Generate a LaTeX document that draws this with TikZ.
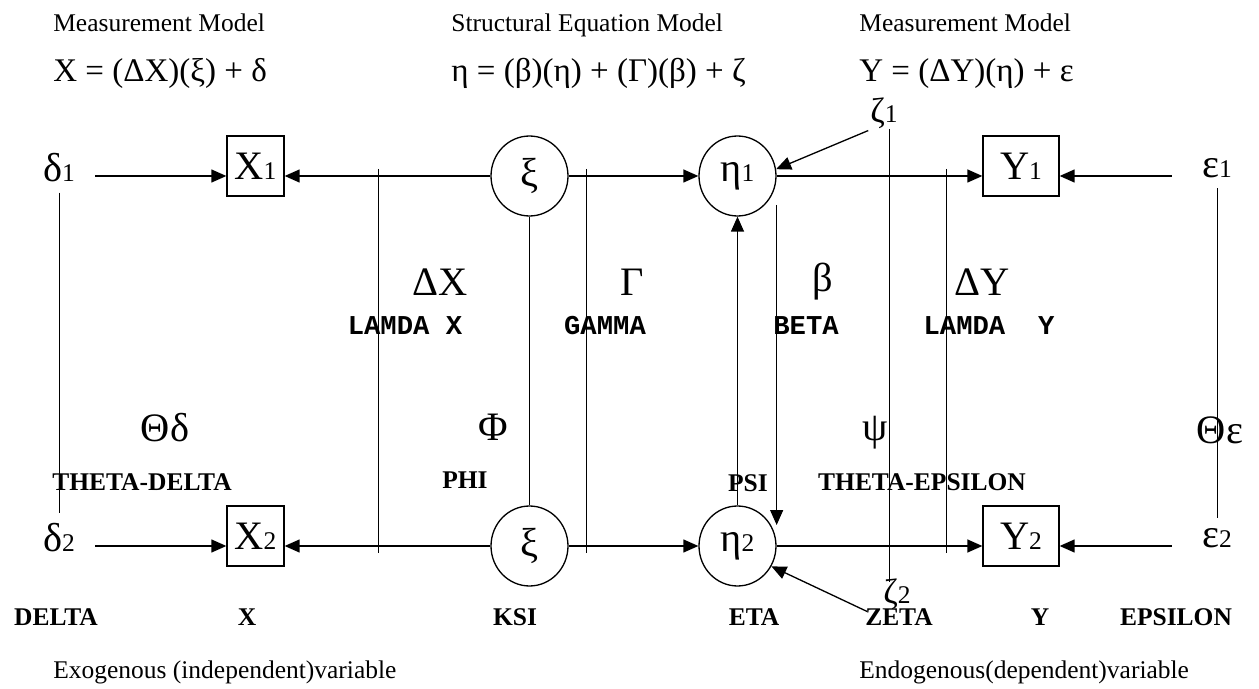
\documentclass[tikz,border=0pt]{standalone}
\usepackage{fontspec}
\setmainfont{Liberation Serif}
\setmonofont{Liberation Mono}
\usepackage{tikz}
\usetikzlibrary{arrows.meta,shapes.geometric}
\newcommand{\idx}[1]{{\fontsize{14.5}{16}\selectfont #1}}

\begin{document}
\begin{tikzpicture}[x=0.02cm,y=-0.02cm,
  sym/.style={font=\fontsize{23}{26}\selectfont,inner sep=0pt},
  lbl/.style={font=\fontsize{14.5}{16}\selectfont\bfseries,inner sep=0pt},
  mlbl/.style={font=\fontsize{15.5}{17}\selectfont\ttfamily\bfseries,inner sep=0pt},
  ttl/.style={font=\fontsize{14.5}{16}\selectfont,anchor=base west,inner sep=0pt},
  eqn/.style={font=\fontsize{18.8}{22}\selectfont,anchor=base west,inner sep=0pt},
  obs/.style={draw,line width=0.75pt,minimum width=1.14cm,minimum height=1.2cm,
              inner sep=0pt,font=\fontsize{23}{26}\selectfont},
  lat/.style={draw,ellipse,line width=0.75pt,minimum width=1.54cm,minimum height=1.6cm,
              inner sep=0pt,font=\fontsize{23}{26}\selectfont},
  arr/.style={line width=0.75pt,-{Triangle[length=0.3cm,width=0.26cm]}},
  vline/.style={line width=0.55pt}]
 \useasboundingbox (0,0) rectangle (1259,689);
 % ---- headings ----
 \node[ttl] (hX) at (53,32) {Measurement Model};
 \node[eqn] (eqX) at (53,82) {X = (ΔX)(ξ) + δ};
 \node[ttl] (hS) at (451,32) {Structural Equation Model};
 \node[eqn] (eqS) at (451,82) {η = (β)(η) + (Γ)(β) + ζ};
 \node[ttl] (hY) at (859,32) {Measurement Model};
 \node[eqn] (eqY) at (859,82) {Y = (ΔY)(η) + ε};
 % ---- top row ----
 \node[sym] (d1) at (59,168) {δ\idx{1}};
 \node[obs] (X1) at (255.5,166) {X\idx{1}};
 \node[lat] (ksi1) at (529.5,176) {ξ};
 \node[lat] (eta1) at (737.5,176) {η\idx{1}};
 \node[obs,minimum width=1.52cm] (Y1) at (1021,166) {Y\idx{1}};
 \node[sym] (e1) at (1217,168) {ε\idx{1}};
 % ---- bottom row ----
 \node[sym] (d2) at (59,538) {δ\idx{2}};
 \node[obs] (X2) at (255.5,536) {X\idx{2}};
 \node[lat] (ksi2) at (529.5,546) {ξ};
 \node[lat] (eta2) at (737.5,546) {η\idx{2}};
 \node[obs,minimum width=1.52cm] (Y2) at (1021,536) {Y\idx{2}};
 \node[sym] (e2) at (1217,538) {ε\idx{2}};
 % ---- disturbances ----
 \node[font=\fontsize{20}{22}\selectfont,inner sep=1pt] (z1) at (884,113) {ζ\idx{1}};
 \node[font=\fontsize{20}{22}\selectfont,inner sep=1pt] (z2) at (897,594) {ζ\idx{2}};
 % ---- arrows ----
 \draw[arr,shorten <=0.4cm] (d1.east |- ksi1) -- (X1.west |- ksi1);
 \draw[arr] (ksi1.west) -- (X1.east |- ksi1);
 \draw[arr] (ksi1.east) -- (eta1.west);
 \draw[arr] (eta1.east) -- (Y1.west |- eta1);
 \draw[arr,shorten <=0.6cm] (e1.west |- eta1) -- (Y1.east |- eta1);
 \draw[arr,shorten <=0.4cm] (d2.east |- ksi2) -- (X2.west |- ksi2);
 \draw[arr] (ksi2.west) -- (X2.east |- ksi2);
 \draw[arr] (ksi2.east) -- (eta2.west);
 \draw[arr] (eta2.east) -- (Y2.west |- eta2);
 \draw[arr,shorten <=0.6cm] (e2.west |- eta2) -- (Y2.east |- eta2);
 \draw[arr] (eta2.north) -- (eta1.south);
 \draw[arr] ([yshift=-0.58cm]eta1.east) -- ([yshift=0.42cm]eta2.east);
 \draw[arr] (z1.south west) -- (eta1.10);
 \draw[arr] ([xshift=-0.28cm]z2.south west) -- (eta2.-31);
 % ---- covariance lines ----
 \draw[vline,shorten <=0.2cm,shorten >=0.2cm] (d1.south) -- (d2.north);
 \draw[vline,shorten <=0.2cm,shorten >=0.2cm] (e1.south) -- (e2.north);
 \draw[vline] (ksi1.south) -- (ksi2.north);
 \draw[vline] (378,169) -- (378,553);
 \draw[vline] (586,169) -- (586,553);
 \draw[vline] (946,169) -- (946,553);
 \draw[vline] (889,129) -- (889,582);
 % ---- parameter labels ----
 \node[sym] (lamX) at (440,282) {ΔX};
 \node[mlbl] (lamXt) at (405,326) {LAMDA X};
 \node[sym] (gam) at (632,282) {Γ};
 \node[mlbl] (gamt) at (605,326) {GAMMA};
 \node[sym] (bet) at (823,282) {β};
 \node[mlbl] (bett) at (806,326) {BETA};
 \node[sym] (lamY) at (982,282) {ΔY};
 \node[mlbl] (lamYt) at (989,326) {LAMDA\ \ Y};
 \node[sym] (thd) at (165,428) {Θδ};
 \node[lbl] (thdt) at (142,482) {THETA-DELTA};
 \node[sym] (phi) at (493,427) {Φ};
 \node[lbl] (phit) at (465,480) {PHI};
 \node[sym] (psi) at (875,433) {ψ};
 \node[lbl] (psit) at (748,483) {PSI};
 \node[lbl] (thet) at (922,482) {THETA-EPSILON};
 \node[sym] (the) at (1220,430) {Θε};
 % ---- variable names ----
 \node[lbl] (nd) at (56,617) {DELTA};
 \node[lbl] (nx) at (247,617) {X};
 \node[lbl] (nk) at (515,617) {KSI};
 \node[lbl] (ne) at (754,617) {ETA};
 \node[lbl] (nz) at (899,617) {ZETA};
 \node[lbl] (ny) at (1040,617) {Y};
 \node[lbl] (nep) at (1176,617) {EPSILON};
 \node[ttl] (exo) at (53,678) {Exogenous (independent)variable};
 \node[ttl] (endo) at (859,678) {Endogenous(dependent)variable};
\end{tikzpicture}
\end{document}
